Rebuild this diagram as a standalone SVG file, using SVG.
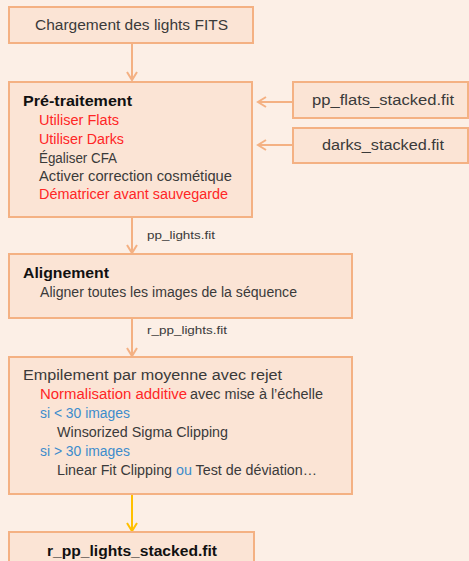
<svg xmlns="http://www.w3.org/2000/svg" width="469" height="561" viewBox="0 0 469 561">
<defs>
<style>
.box{fill:#fbe4d5;stroke:#f4b183;stroke-width:2}
.t{font-family:"Liberation Sans",Arial,sans-serif;font-size:14px;fill:#3a3a3a}
.b{font-weight:bold;fill:#111}
.r{fill:#ff2626}
.bl{fill:#3d8ccc}
.sm{font-size:11px}
.c{stroke:#f4b183;stroke-width:2;fill:none}
.y{stroke:#ffc000;stroke-width:2;fill:none}
</style>
<marker id="ah" markerWidth="12" markerHeight="12" refX="9" refY="6" orient="auto" markerUnits="userSpaceOnUse">
<path d="M1,1 L9,6 L1,11" fill="none" stroke="#f4b183" stroke-width="2"/>
</marker>
<marker id="ahy" markerWidth="12" markerHeight="12" refX="9" refY="6" orient="auto" markerUnits="userSpaceOnUse">
<path d="M1,1 L9,6 L1,11" fill="none" stroke="#ffc000" stroke-width="2"/>
</marker>
</defs>
<rect width="469" height="561" fill="#fcefe6"/>
<g id="connectors">
<path class="c" d="M132,43 V80" marker-end="url(#ah)"/>
<path class="c" d="M293,102 H258" marker-end="url(#ah)"/>
<path class="c" d="M293,145 H258" marker-end="url(#ah)"/>
<path class="c" d="M132,217 V253" marker-end="url(#ah)"/>
<text class="t sm" x="147" y="239" textLength="68" lengthAdjust="spacingAndGlyphs">pp_lights.fit</text>
<path class="c" d="M132,318 V356" marker-end="url(#ah)"/>
<text class="t sm" x="147" y="334" textLength="80" lengthAdjust="spacingAndGlyphs">r_pp_lights.fit</text>
<path class="y" d="M132,494 V531" marker-end="url(#ahy)"/>
</g>
<g id="chargement">
<rect class="box" x="9" y="7" width="244" height="36"/>
<text class="t" x="35" y="30" textLength="193" lengthAdjust="spacingAndGlyphs">Chargement des lights FITS</text>
</g>
<g id="pretraitement">
<rect class="box" x="9" y="82" width="243" height="135"/>
<text class="t b" x="23" y="106" textLength="109" lengthAdjust="spacingAndGlyphs">Pré-traitement</text>
<text class="t r" x="39" y="125" textLength="80" lengthAdjust="spacingAndGlyphs">Utiliser Flats</text>
<text class="t r" x="39" y="144" textLength="85" lengthAdjust="spacingAndGlyphs">Utiliser Darks</text>
<text class="t" x="39" y="163" textLength="78" lengthAdjust="spacingAndGlyphs">Égaliser CFA</text>
<text class="t" x="39" y="181" textLength="193" lengthAdjust="spacingAndGlyphs">Activer correction cosmétique</text>
<text class="t r" x="39" y="199" textLength="189" lengthAdjust="spacingAndGlyphs">Dématricer avant sauvegarde</text>
</g>
<g id="flats">
<rect class="box" x="293" y="82" width="175" height="36"/>
<text class="t" x="312" y="105" textLength="142" lengthAdjust="spacingAndGlyphs">pp_flats_stacked.fit</text>
</g>
<g id="darks">
<rect class="box" x="293" y="128" width="175" height="35"/>
<text class="t" x="322" y="150" textLength="122" lengthAdjust="spacingAndGlyphs">darks_stacked.fit</text>
</g>
<g id="alignement">
<rect class="box" x="9" y="254" width="343" height="64"/>
<text class="t b" x="23" y="278" textLength="86" lengthAdjust="spacingAndGlyphs">Alignement</text>
<text class="t" x="40" y="297" textLength="257" lengthAdjust="spacingAndGlyphs">Aligner toutes les images de la séquence</text>
</g>
<g id="empilement">
<rect class="box" x="9" y="357" width="343" height="137"/>
<text class="t" x="23" y="380" textLength="259" lengthAdjust="spacingAndGlyphs">Empilement par moyenne avec rejet</text>
<text class="t r" x="40" y="399" textLength="147" lengthAdjust="spacingAndGlyphs">Normalisation additive</text>
<text class="t" x="190" y="399" textLength="133" lengthAdjust="spacingAndGlyphs">avec mise à  l’échelle</text>
<text class="t bl" x="40" y="418" textLength="90" lengthAdjust="spacingAndGlyphs">si &lt; 30  images</text>
<text class="t" x="57" y="437" textLength="171" lengthAdjust="spacingAndGlyphs">Winsorized Sigma Clipping</text>
<text class="t bl" x="40" y="456" textLength="90" lengthAdjust="spacingAndGlyphs">si &gt; 30  images</text>
<text class="t" x="57" y="475" textLength="260" lengthAdjust="spacingAndGlyphs">Linear Fit Clipping <tspan class="bl">ou</tspan> Test de déviation…</text>
</g>
<g id="resultat">
<rect class="box" x="9" y="532" width="245" height="40"/>
<text class="t b" x="47" y="556" textLength="170" lengthAdjust="spacingAndGlyphs">r_pp_lights_stacked.fit</text>
</g>
</svg>
